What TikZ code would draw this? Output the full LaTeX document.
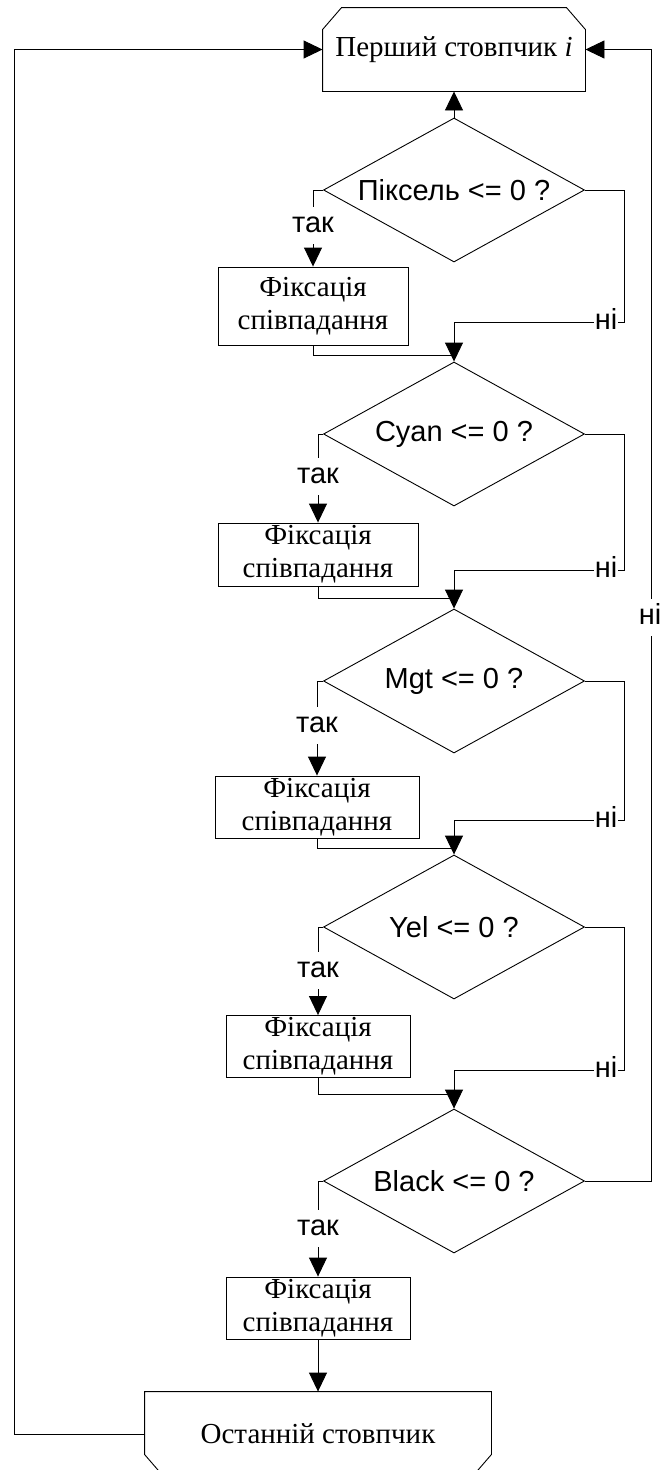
\documentclass[tikz,border=0pt]{standalone}
\usepackage{fontspec}
\setmainfont{Liberation Serif}
\newfontfamily\sansfont{Liberation Sans}
\usetikzlibrary{shapes.geometric,arrows.meta,calc}

\begin{document}
\begin{tikzpicture}[x=1pt,y=-1pt,
  line width=0.9pt,
  arr/.style={-{Triangle[length=19pt,width=18pt]}},
  cond/.style={diamond, draw, aspect=1.8, minimum width=261pt, minimum height=144pt,
    inner sep=0pt, font=\sansfont\fontsize{29}{33}\selectfont},
  act/.style={rectangle, draw, inner sep=0pt, align=center,
    font=\fontsize{29}{33}\selectfont},
  lim/.style={inner sep=0pt, font=\fontsize{29}{33}\selectfont},
  lbl/.style={fill=white, inner xsep=1pt, inner ysep=11pt, text height=15pt,
    text depth=0pt, font=\sansfont\fontsize{29}{33}\selectfont}]

\useasboundingbox (0,0) rectangle (662,1470);

% loop start
\node[lim, minimum width=262pt, minimum height=83pt] (start) at (454,49.5)
  {Перший стовпчик \textit{i}};
\draw (start.south west) -- ($(start.north west)+(0,22)$)
  -- ($(start.north west)+(19,0)$) -- ($(start.north east)+(-19,0)$)
  -- ($(start.north east)+(0,22)$) -- (start.south east) -- cycle;

% conditions
\node[cond] (d1) at (454,190)  {Піксель <= 0 ?};
\node[cond] (d2) at (454,434)  {Cyan <= 0 ?};
\node[cond] (d3) at (454,681)  {Mgt <= 0 ?};
\node[cond] (d4) at (454,927)  {Yel <= 0 ?};
\node[cond] (d5) at (454,1181) {Black <= 0 ?};

% actions
\node[act, minimum width=190pt, minimum height=78pt] (b1) at (313,306)    {Фіксація\\співпадання};
\node[act, minimum width=200pt, minimum height=63pt] (b2) at (318,554.5)  {Фіксація\\співпадання};
\node[act, minimum width=204pt, minimum height=62pt] (b3) at (317,807)    {Фіксація\\співпадання};
\node[act, minimum width=184pt, minimum height=62pt] (b4) at (318,1046.5) {Фіксація\\співпадання};
\node[act, minimum width=184pt, minimum height=62pt] (b5) at (318,1308)   {Фіксація\\співпадання};

% loop end
\node[lim, minimum width=346pt, minimum height=84pt] (stop) at (318,1434)
  {Останній стовпчик};
\draw (stop.north west) -- ($(stop.south west)+(0,-22)$)
  -- ($(stop.south west)+(19,0)$) -- ($(stop.south east)+(-19,0)$)
  -- ($(stop.south east)+(0,-22)$) -- (stop.north east) -- cycle;

% corner points of the "no" branches and joins
\coordinate (n1) at (624,322);  \coordinate (m1) at (454,322);  \coordinate (j1) at (454,355);
\coordinate (n2) at (624,570);  \coordinate (m2) at (454,570);  \coordinate (j2) at (454,598);
\coordinate (n3) at (624,820);  \coordinate (m3) at (454,820);  \coordinate (j3) at (454,848);
\coordinate (n4) at (624,1070); \coordinate (m4) at (454,1070); \coordinate (j4) at (454,1094);
\coordinate (r) at (651,49.5);
\coordinate (l) at (14,49.5);

\draw[arr] (d1.north) -- (start.south);

% yes branches
\draw[arr] (d1.west) -| (b1.north);
\draw[arr] (d2.west) -| (b2.north);
\draw[arr] (d3.west) -| (b3.north);
\draw[arr] (d4.west) -| (b4.north);
\draw[arr] (d5.west) -| (b5.north);
\node[lbl] at (313,225)  {так};
\node[lbl] at (318,476)  {так};
\node[lbl] at (317,725)  {так};
\node[lbl] at (318,970)  {так};
\node[lbl] at (318,1228) {так};

% no branches
\draw (d1.east) -| (n1) -- (m1);
\draw (d2.east) -| (n2) -- (m2);
\draw (d3.east) -| (n3) -- (m3);
\draw (d4.east) -| (n4) -- (m4);
\draw[arr] (m1) -- (d2.north);
\draw[arr] (m2) -- (d3.north);
\draw[arr] (m3) -- (d4.north);
\draw[arr] (m4) -- (d5.north);
\node[lbl] at (606,322)  {ні};
\node[lbl] at (606,570)  {ні};
\node[lbl] at (606,820)  {ні};
\node[lbl] at (606,1070) {ні};

% joins after the actions
\draw (b1.south) |- (j1);
\draw (b2.south) |- (j2);
\draw (b3.south) |- (j3);
\draw (b4.south) |- (j4);
\draw[arr] (b5.south) -- (b5.south |- stop.north);

% loop back edges
\draw[arr] (d5.east) -| (r) -- (start.east);
\node[lbl] at (650,617) {ні};
\draw[arr] (stop.west) -| (l) -- (start.west);
\end{tikzpicture}
\end{document}
